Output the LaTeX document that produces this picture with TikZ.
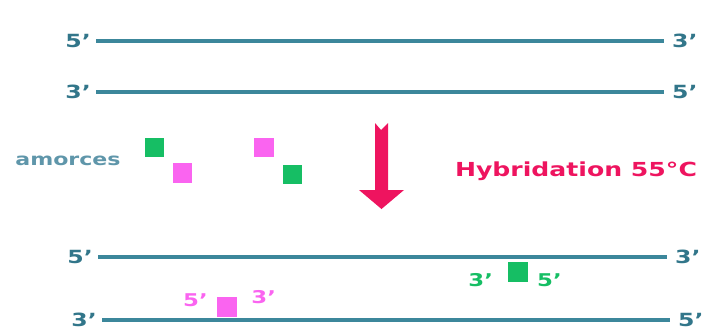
\documentclass[tikz,border=0pt]{standalone}
\usepackage{fontspec}
\setmainfont[FakeStretch=1.3]{DejaVu Sans}
\usetikzlibrary{positioning}

\definecolor{strandcol}{RGB}{60,135,155}
\definecolor{endcol}{RGB}{50,118,138}
\definecolor{amorcol}{RGB}{95,150,170}
\definecolor{vert}{RGB}{22,190,100}
\definecolor{rose}{RGB}{250,100,240}
\definecolor{hybcol}{RGB}{238,20,95}

\begin{document}
\begin{tikzpicture}[x=0.03cm,y=-0.03cm,
	strand/.style={line width=2.6pt, draw=strandcol, shorten <=4.5pt, shorten >=7pt},
	endlbl/.style={text=endcol, inner sep=0pt, font=\fontsize{15.5}{15.5}\selectfont\bfseries},
	primer/.style={fill=#1, minimum size=17pt, inner sep=0pt},
	primlbl/.style={text=#1, inner sep=0pt, font=\fontsize{15}{15}\selectfont\bfseries}]
	\useasboundingbox (0,0) rectangle (707,331);
	% brins de depart
	\path	(91,41)		node[endlbl, anchor=east] (t1l)	{5’}
		(672,41)	node[endlbl, anchor=west] (t1r)	{3’}
		(91,92)		node[endlbl, anchor=east] (t2l)	{3’}
		(672,92)	node[endlbl, anchor=west] (t2r)	{5’};
	\draw[strand] (t1l.east) to (t1r.west);
	\draw[strand] (t2l.east) to (t2r.west);
	% amorces libres
	\node[text=amorcol, font=\fontsize{14.5}{14.5}\selectfont\bfseries] (amo) at (68,161) {amorces};
	\path	(154.5,147.5)	node[primer=vert] (g1) {}
		(182.5,173)	node[primer=rose] (p1) {}
		(264,147.5)	node[primer=rose] (p2) {}
		(292.5,174.5)	node[primer=vert] (g2) {};
	% fleche
	\fill[hybcol] (375,123) -- (381,130) -- (388,123) -- (388,190) -- (404,190)
		-- (381.5,209) -- (359,190) -- (375,190) -- cycle;
	\node[text=hybcol, font=\fontsize{16.5}{16.5}\selectfont\bfseries] (hyb) at (576,171) {Hybridation 55°C};
	% brins hybrides
	\path	(93,257)	node[endlbl, anchor=east] (b1l)	{5’}
		(675,257)	node[endlbl, anchor=west] (b1r)	{3’}
		(97,320)	node[endlbl, anchor=east] (b2l)	{3’}
		(678,320)	node[endlbl, anchor=west] (b2r)	{5’};
	\draw[strand] (b1l.east) to (b1r.west);
	\draw[strand] (b2l.east) to (b2r.west);
	\path	(227,307)	node[primer=rose] (p3) {}
		(518,272)	node[primer=vert] (g3) {};
	\node[primlbl=rose, left=7.5pt of p3, yshift=6pt]	(p3l) {5’};
	\node[primlbl=rose, right=12pt of p3, yshift=8.5pt]	(p3r) {3’};
	\node[primlbl=vert, left=12.5pt of g3, yshift=-7pt]	(g3l) {3’};
	\node[primlbl=vert, right=7.5pt of g3, yshift=-7pt]	(g3r) {5’};
\end{tikzpicture}
\end{document}
